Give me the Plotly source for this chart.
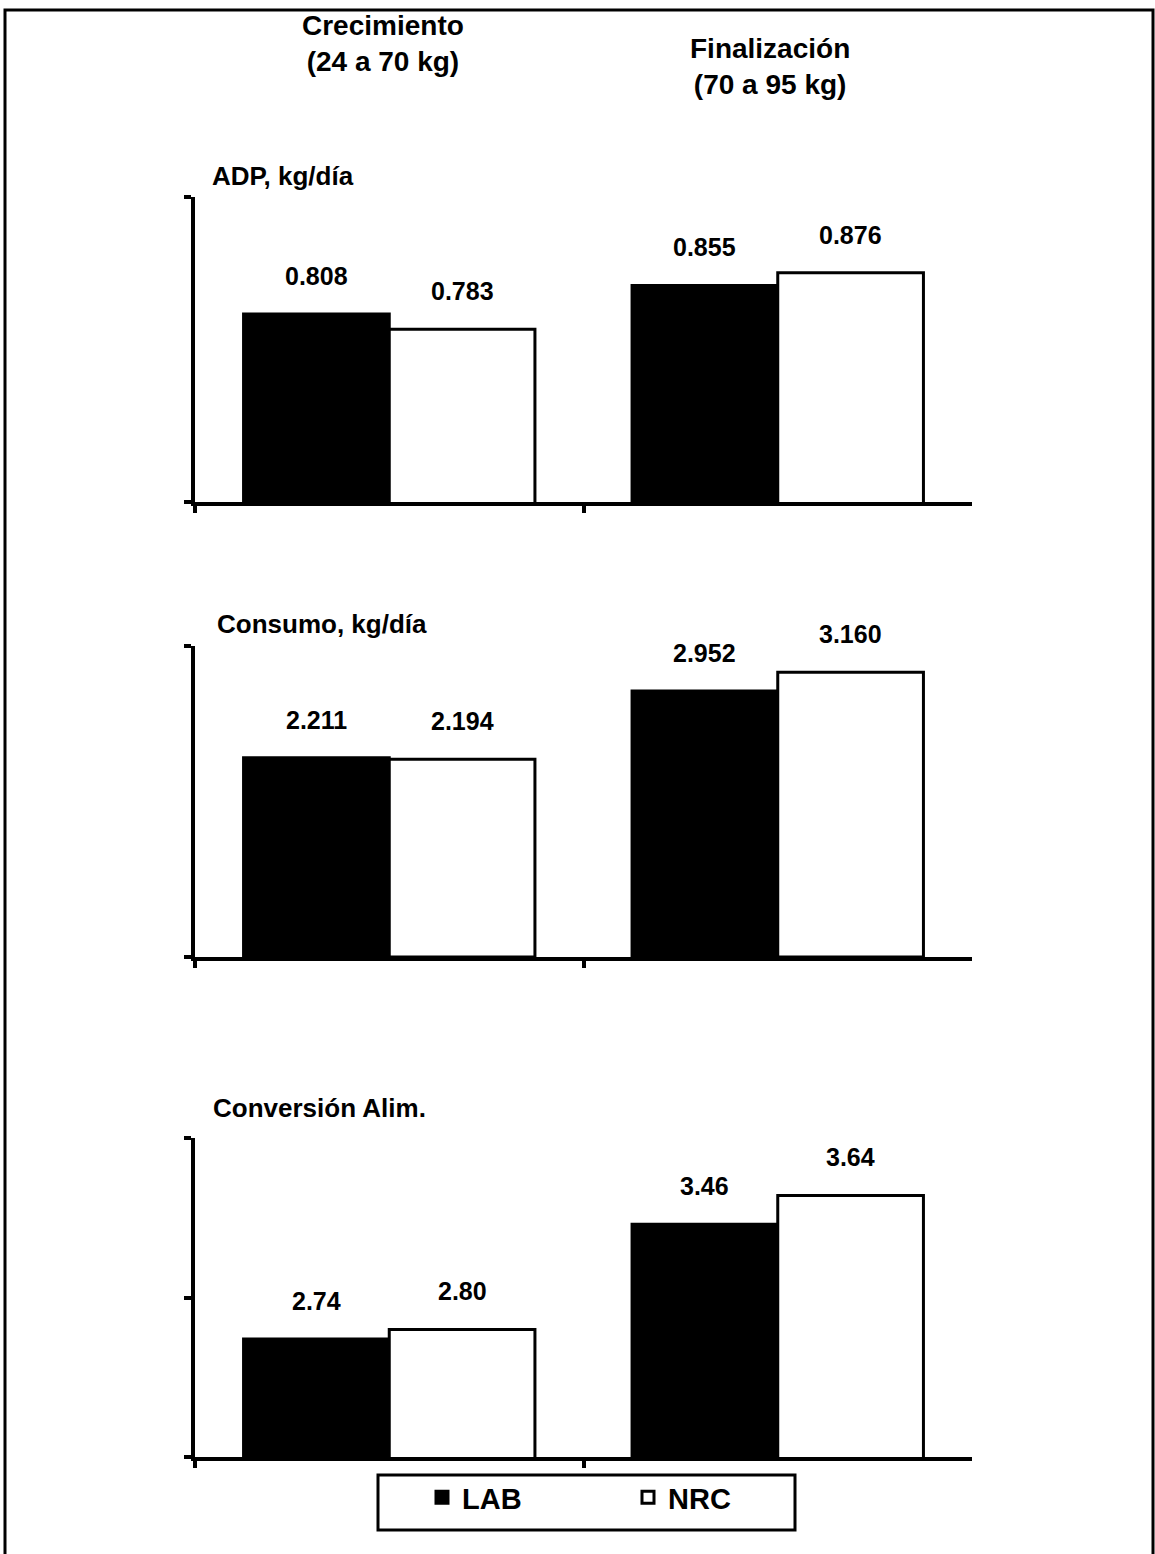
import plotly.graph_objects as go
from plotly.subplots import make_subplots

# Stages (x categories) and the two feeding programmes
stages = ["Crecimiento (24 a 70 kg)", "Finalización (70 a 95 kg)"]
stage_titles = ["Crecimiento<br>(24 a 70 kg)", "Finalización<br>(70 a 95 kg)"]
series_names = ["LAB", "NRC"]

# Average daily gain, kg/day
adp_lab = [0.808, 0.855]
adp_nrc = [0.783, 0.876]

# Feed intake, kg/day
consumo_lab = [2.211, 2.952]
consumo_nrc = [2.194, 3.160]

# Feed conversion
conversion_lab = [2.74, 3.46]
conversion_nrc = [2.80, 3.64]

panel_titles = ["ADP, kg/día", "Consumo, kg/día", "Conversión Alim."]
panel_formats = ["{:.3f}", "{:.3f}", "{:.2f}"]
panel_ranges = [[0.5, 1.0], [0.0, 3.45], [2.0, 4.0]]
panel_ticks = [[0.5, 1.0], [0.0, 3.45], [2.0, 3.0, 4.0]]

panels = [
    (adp_lab, adp_nrc),
    (consumo_lab, consumo_nrc),
    (conversion_lab, conversion_nrc),
]

W, H = 1155, 1554
FONT = "Liberation Sans, Arial, sans-serif"


def px_x(x):
    return x / W


def px_y(y):
    return 1 - y / H


fig = make_subplots(rows=3, cols=1)

x_dom = [px_x(195), px_x(972)]
y_doms = [
    [px_y(502), px_y(197)],
    [px_y(957), px_y(646)],
    [px_y(1457), px_y(1138)],
]

annotations = []
for i, (lab, nrc) in enumerate(panels):
    row = i + 1
    fig.add_trace(
        go.Bar(
            x=stages, y=lab, name=series_names[0],
            marker=dict(color="black", line=dict(color="black", width=3)),
            showlegend=(i == 0), legendgroup="lab",
        ),
        row=row, col=1,
    )
    fig.add_trace(
        go.Bar(
            x=stages, y=nrc, name=series_names[1],
            marker=dict(color="white", line=dict(color="black", width=3)),
            showlegend=(i == 0), legendgroup="nrc",
        ),
        row=row, col=1,
    )
    xa = "x" if i == 0 else f"x{row}"
    ya = "y" if i == 0 else f"y{row}"
    fmt = panel_formats[i]
    for j in range(len(stages)):
        for vals, off in ((lab, -0.1875), (nrc, 0.1875)):
            annotations.append(dict(
                x=j + off, y=vals[j], xref=xa, yref=ya,
                text=fmt.format(vals[j]), showarrow=False,
                yanchor="middle", yshift=38,
                font=dict(family=FONT, size=25, color="black", weight="bold"),
            ))
    fig.update_xaxes(
        domain=x_dom, type="category", range=[-0.5, 1.5],
        showline=True, linecolor="black", linewidth=4,
        ticks="outside", tickson="boundaries", ticklen=7, tickwidth=4,
        tickcolor="black", showticklabels=False, showgrid=False,
        zeroline=False, fixedrange=True,
        row=row, col=1,
    )
    fig.update_yaxes(
        domain=y_doms[i], range=panel_ranges[i],
        tickmode="array", tickvals=panel_ticks[i],
        showline=True, linecolor="black", linewidth=4,
        ticks="outside", ticklen=7, tickwidth=4, tickcolor="black",
        showticklabels=False, showgrid=False, zeroline=False,
        fixedrange=True,
        row=row, col=1,
    )

# Panel headings
panel_title_pos = [(210, 176), (215, 624), (211, 1108)]
for title, (px, py) in zip(panel_titles, panel_title_pos):
    annotations.append(dict(
        x=px_x(px), y=px_y(py), xref="paper", yref="paper",
        xanchor="left", yanchor="middle", showarrow=False, text=title,
        font=dict(family=FONT, size=26, color="black", weight="bold"),
    ))

# Stage headings above the first panel
for title, (px, py) in zip(stage_titles, [(383, 44), (770, 67)]):
    annotations.append(dict(
        x=px_x(px), y=px_y(py), xref="paper", yref="paper",
        xanchor="center", yanchor="middle", showarrow=False, text=title,
        align="center",
        font=dict(family=FONT, size=28, color="black", weight="bold"),
    ))

fig.update_layout(
    width=W, height=H,
    margin=dict(l=0, r=0, t=0, b=0),
    paper_bgcolor="white", plot_bgcolor="white",
    barmode="group", bargap=0.25, bargroupgap=0,
    annotations=annotations,
    font=dict(family=FONT, color="black"),
    legend=dict(
        orientation="h",
        x=px_x(422), xanchor="left",
        y=px_y(1472), yanchor="top",
        borderwidth=0, bgcolor="rgba(0,0,0,0)",
        font=dict(family=FONT, size=29, color="black", weight="bold"),
        entrywidth=161, entrywidthmode="pixels",
        itemwidth=30,
    ),
    shapes=[
        # page frame
        dict(
            type="rect", xref="paper", yref="paper",
            x0=px_x(5), x1=px_x(1153), y0=-0.02, y1=px_y(10),
            line=dict(color="black", width=3),
        ),
        # legend box
        dict(
            type="rect", xref="paper", yref="paper",
            x0=px_x(378), x1=px_x(795), y0=px_y(1530), y1=px_y(1475),
            line=dict(color="black", width=3),
        ),
    ],
)

fig.write_html("out.html", config={"displayModeBar": False})
